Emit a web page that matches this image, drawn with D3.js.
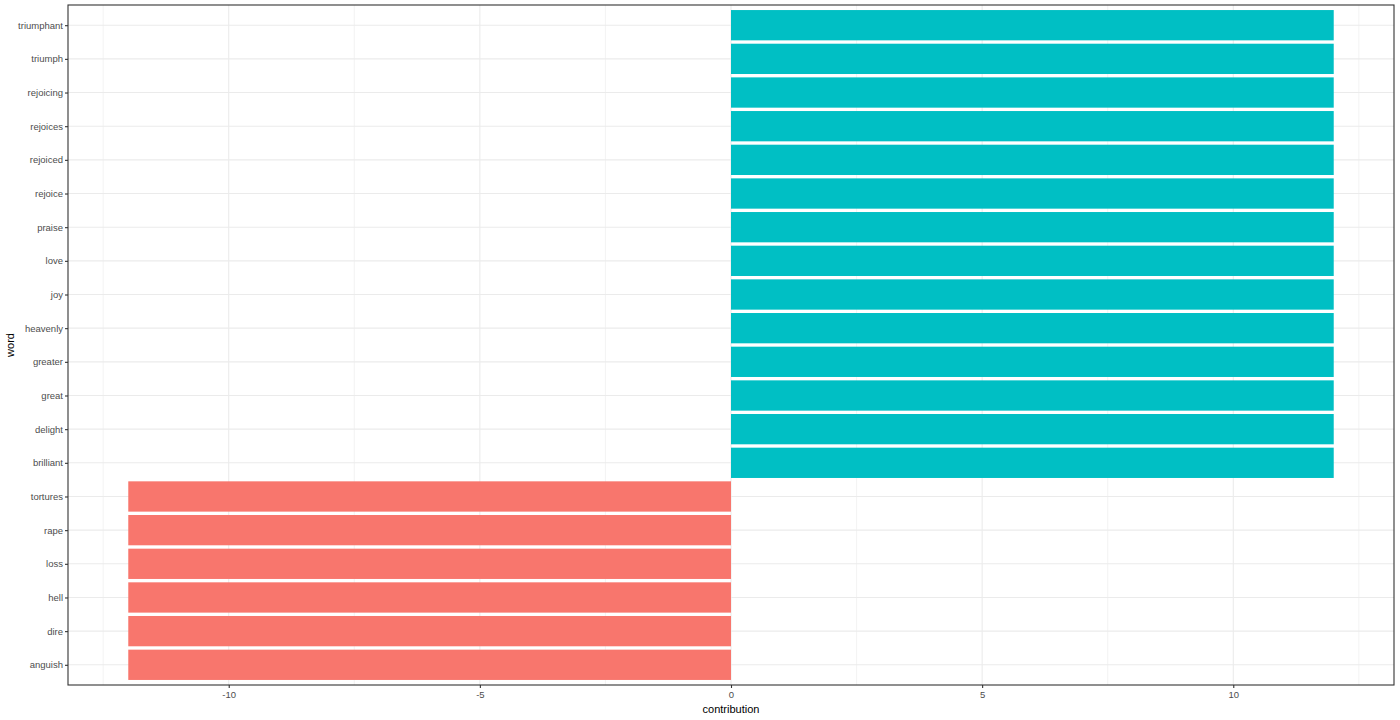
<!DOCTYPE html>
<html>
<head>
<meta charset="utf-8">
<script src="https://cdn.jsdelivr.net/npm/d3@7"></script>
<style>
  body { margin: 0; background: #fff; }
  svg text { font-family: "Liberation Sans", Arial, sans-serif; }
</style>
</head>
<body>
<div id="chart"></div>
<script>
// ── DATA ───────────────────────────────────────────────────────
// words listed bottom → top, as on the y axis
const words = ["anguish", "dire", "hell", "loss", "rape", "tortures",
  "brilliant", "delight", "great", "greater", "heavenly", "joy", "love",
  "praise", "rejoice", "rejoiced", "rejoices", "rejoicing", "triumph", "triumphant"];
const contribution = [-12, -12, -12, -12, -12, -12,
  12, 12, 12, 12, 12, 12, 12, 12, 12, 12, 12, 12, 12, 12];
const xTicks = [-10, -5, 0, 5, 10];
const xMinor = [-12.5, -7.5, -2.5, 2.5, 7.5, 12.5];

const data = words.map((w, i) => ({ word: w, value: contribution[i] }));

// ── DIMENSIONS ─────────────────────────────────────────────────
const W = 1400, H = 720;
const panel = { left: 68, top: 5, right: 1394, bottom: 685 };

const svg = d3.select("#chart").append("svg")
  .attr("width", W).attr("height", H);

// ── SCALES ─────────────────────────────────────────────────────
const lim = d3.max(contribution, d => Math.abs(d)) * 1.1;
const x = d3.scaleLinear().domain([-lim, lim]).range([panel.left, panel.right]);

const n = words.length;
// discrete axis with 0.6 expansion each side
const y = d3.scaleLinear().domain([0.4, n + 0.6]).range([panel.bottom, panel.top]);
const band = Math.abs(y(1) - y(0));

// ── GRID ───────────────────────────────────────────────────────
const grid = svg.append("g");
grid.selectAll(".minor").data(xMinor).join("line")
  .attr("x1", d => x(d)).attr("x2", d => x(d))
  .attr("y1", panel.top).attr("y2", panel.bottom)
  .attr("stroke", "#EBEBEB").attr("stroke-width", 0.6);
grid.selectAll(".major").data(xTicks).join("line")
  .attr("x1", d => x(d)).attr("x2", d => x(d))
  .attr("y1", panel.top).attr("y2", panel.bottom)
  .attr("stroke", "#EBEBEB").attr("stroke-width", 1.1);
grid.selectAll(".hmajor").data(words).join("line")
  .attr("x1", panel.left).attr("x2", panel.right)
  .attr("y1", (d, i) => y(i + 1)).attr("y2", (d, i) => y(i + 1))
  .attr("stroke", "#EBEBEB").attr("stroke-width", 1.1);

// ── BARS ───────────────────────────────────────────────────────
svg.append("g").selectAll("rect").data(data).join("rect")
  .attr("x", d => x(Math.min(0, d.value)))
  .attr("width", d => Math.abs(x(d.value) - x(0)))
  .attr("y", (d, i) => y(i + 1) - band * 0.45)
  .attr("height", band * 0.9)
  .attr("fill", d => d.value < 0 ? "#F8766D" : "#00BFC4");

// ── PANEL BORDER ───────────────────────────────────────────────
svg.append("rect")
  .attr("x", panel.left).attr("y", panel.top)
  .attr("width", panel.right - panel.left).attr("height", panel.bottom - panel.top)
  .attr("fill", "none").attr("stroke", "#333333").attr("stroke-width", 1.1);

// ── AXES ───────────────────────────────────────────────────────
const xAxis = svg.append("g")
  .attr("transform", `translate(0,${panel.bottom})`)
  .call(d3.axisBottom(x).tickValues(xTicks).tickSize(3).tickPadding(3).tickFormat(d => String(d)));
xAxis.select(".domain").remove();
xAxis.selectAll("line").attr("stroke", "#333333").attr("stroke-width", 1.1);
xAxis.selectAll("text").attr("fill", "#4D4D4D").attr("font-size", "9.5px")
  .attr("font-family", "Liberation Sans, Arial, sans-serif");

const yAxis = svg.append("g")
  .attr("transform", `translate(${panel.left},0)`)
  .call(d3.axisLeft(y).tickValues(d3.range(1, n + 1)).tickSize(3).tickPadding(2)
    .tickFormat(d => words[d - 1]));
yAxis.select(".domain").remove();
yAxis.selectAll("line").attr("stroke", "#333333").attr("stroke-width", 1.1);
yAxis.selectAll("text").attr("fill", "#4D4D4D").attr("font-size", "9.5px")
  .attr("font-family", "Liberation Sans, Arial, sans-serif");

// Axis titles
svg.append("text")
  .attr("x", (panel.left + panel.right) / 2)
  .attr("y", 713)
  .attr("text-anchor", "middle")
  .attr("font-size", "11px")
  .attr("fill", "#000")
  .text("contribution");

svg.append("text")
  .attr("transform", `translate(14,${(panel.top + panel.bottom) / 2}) rotate(-90)`)
  .attr("text-anchor", "middle")
  .attr("font-size", "11px")
  .attr("fill", "#000")
  .text("word");
</script>
</body>
</html>
